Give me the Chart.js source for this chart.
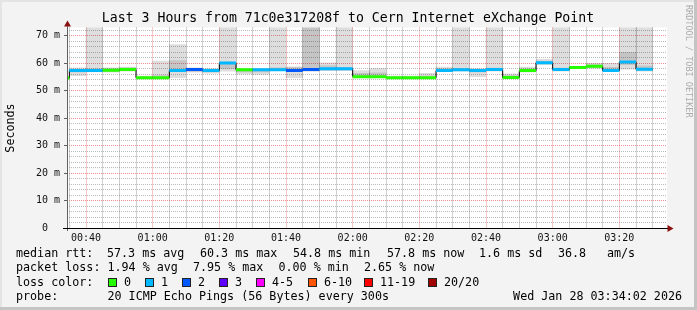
<!DOCTYPE html>
<html lang="en">
<head>
<meta charset="UTF-8">
<title>Last 3 Hours</title>
<script src="https://cdn.jsdelivr.net/npm/chart.js@4"></script>
<style>
    html, body { margin: 0; padding: 0; background: #f3f3f3; }
</style>
</head>
<body>
<canvas id="graphe" width="697" height="310"></canvas>
<script>

    // Bornes des intervalles de 5 min (300 s)
    let bornes = ['00:30','00:35','00:40','00:45','00:50','00:55','01:00','01:05','01:10','01:15',
                  '01:20','01:25','01:30','01:35','01:40','01:45','01:50','01:55','02:00','02:05',
                  '02:10','02:15','02:20','02:25','02:30','02:35','02:40','02:45','02:50','02:55',
                  '03:00','03:05','03:10','03:15','03:20','03:25','03:30'];

    // rtt médian (ms) par intervalle
    let medianes = [54.6, 57.3, 57.3, 57.4, 57.7, 54.7, 54.7, 57.3, 57.7, 57.3,
                    60.1, 57.6, 57.6, 57.6, 57.3, 57.7, 58.0, 58.0, 55.1, 55.1,
                    54.7, 54.7, 54.7, 57.3, 57.6, 57.3, 57.7, 54.8, 57.3, 60.2,
                    57.7, 58.4, 58.9, 57.3, 60.4, 57.8];

    // pings perdus sur 20
    let pertes = [0, 1, 1, 0, 0, 0, 0, 1, 2, 1,
                  1, 0, 1, 1, 2, 2, 1, 1, 0, 0,
                  0, 0, 0, 1, 1, 1, 1, 0, 0, 1,
                  1, 0, 0, 1, 1, 1];

    // fumée : min / max des pings (ms)
    let fumeeBas = [54.3, 55.5, 56.8, 56.7, 57.1, 54.4, 54.9, 54.7, 56.7, 56.4,
                    57.1, 56.1, 55.9, 57.3, 54.7, 57.0, 57.3, 57.3, 55.5, 55.5,
                    54.5, 54.5, 54.9, 57.1, 57.1, 55.1, 57.1, 54.7, 56.7, 59.5,
                    57.1, 58.1, 58.2, 57.3, 57.8, 57.1];
    let fumeeHaut = [55.0, 58.3, 80, 58.3, 58.6, 55.3, 60.8, 66.8, 58.3, 58.0,
                     80, 58.0, 58.0, 80, 58.6, 80, 60.1, 80, 57.3, 58.0,
                     55.3, 55.3, 56.3, 58.6, 80, 58.0, 80, 56.1, 58.6, 61.4,
                     80, 58.9, 60.0, 60.0, 80, 80];

    // fumée dense autour de la médiane (ms)
    let coeurBas = [54.4, 56.8, 57.0, 57.0, 57.3, 54.5, 54.7, 57.0, 57.0, 56.8,
                    58.0, 56.8, 56.8, 57.3, 57.3, 57.5, 57.6, 57.6, 55.3, 55.3,
                    54.5, 54.5, 54.7, 57.3, 57.3, 56.8, 57.3, 54.8, 57.0, 59.8,
                    57.3, 58.2, 58.4, 57.5, 59.5, 57.5];
    let coeurHaut = [54.8, 57.8, 58.0, 58.0, 58.3, 55.0, 55.5, 61.0, 58.0, 57.8,
                     60.4, 57.8, 57.8, 58.3, 58.6, 80, 59.0, 58.5, 56.3, 56.5,
                     55.0, 55.0, 55.3, 58.0, 58.0, 57.8, 58.2, 55.5, 58.0, 60.8,
                     58.2, 58.7, 59.4, 58.5, 64.0, 59.0];

    let heuresAxe = ['00:40','01:00','01:20','01:40','02:00','02:20','02:40','03:00','03:20'];
    let etiquettesY = ['0  ','10 m','20 m','30 m','40 m','50 m','60 m','70 m'];

    let classesPertes = ['0','1','2','3','4-5','6-10','11-19','20/20'];
    let couleursPertes = ['#26ff00','#00b8ff','#0059ff','#5e00ff','#ff00ff','#ff5500','#ff0000','#a10000'];

    let lignesStats = [
        ['median rtt:', '57.3 ms avg', '60.3 ms max', '54.8 ms min', '57.8 ms now', '1.6 ms sd', '36.8', 'am/s'],
        ['packet loss:', '1.94 % avg', '7.95 % max', '0.00 % min', '2.65 % now']
    ];
    let sonde = '20 ICMP Echo Pings (56 Bytes) every 300s';
    let dateGraphe = 'Wed Jan 28 03:34:02 2026';
    let titre = 'Last 3 Hours from 71c0e317208f to Cern Internet eXchange Point';

    let enMinutes = (hhmm) => {
        let [h, m] = hhmm.split(':').map(Number);
        return h * 60 + m;
    };
    let enHeure = (v) => {
        let h = Math.floor(v / 60), m = Math.round(v % 60);
        return String(h).padStart(2, '0') + ':' + String(m).padStart(2, '0');
    };
    let couleurPerte = (n) => {
        if (n <= 3) return couleursPertes[n];
        if (n <= 5) return couleursPertes[4];
        if (n <= 10) return couleursPertes[5];
        if (n <= 19) return couleursPertes[6];
        return couleursPertes[7];
    };

    let debuts = bornes.slice(0, -1).map(enMinutes);
    let fins = bornes.slice(1).map(enMinutes);
    let tMin = 34.3, tMax = 214.3;

    // Prépare les données
    let donneesFumee = debuts.map((d, i) => ({ x: (d + fins[i]) / 2, y: [fumeeBas[i], fumeeHaut[i]] }));
    let donneesCoeur = debuts.map((d, i) => ({ x: (d + fins[i]) / 2, y: [coeurBas[i], coeurHaut[i]] }));
    let donneesEscalier = debuts.map((d, i) => ({ x: d, y: medianes[i] }));
    donneesEscalier.push({ x: fins[fins.length - 1], y: medianes[medianes.length - 1] });
    let donneesMediane = [];
    debuts.forEach((d, i) => {
        donneesMediane.push({ x: d, y: medianes[i] });
        donneesMediane.push({ x: fins[i], y: medianes[i] });
        donneesMediane.push({ x: fins[i], y: null });
    });

    // graduations toutes les 5 min dans la fenêtre
    let graduationsX = [];
    for (let t = Math.ceil(tMin / 5) * 5; t < tMax; t += 5) graduationsX.push({ value: t });

    let police = "'DejaVu Sans Mono', monospace";

    let decor = {
        id: 'decor',
        beforeDraw: (chart) => {
            let ctx = chart.ctx;
            let a = chart.chartArea;
            ctx.save();
            ctx.fillStyle = '#f3f3f3';
            ctx.fillRect(0, 0, 697, 310);
            ctx.fillStyle = '#e4e4e4';
            ctx.fillRect(0, 0, 697, 2);
            ctx.fillRect(0, 0, 2, 310);
            ctx.fillStyle = '#c4c4c4';
            ctx.fillRect(694, 0, 3, 310);
            ctx.fillRect(0, 307, 697, 3);
            ctx.fillStyle = '#ffffff';
            ctx.fillRect(a.left, a.top, a.right - a.left, a.bottom - a.top);
            ctx.restore();
        },
        afterDraw: (chart) => {
            let ctx = chart.ctx;
            let a = chart.chartArea;
            ctx.save();

            // axes + flèches
            ctx.lineWidth = 1;
            ctx.strokeStyle = '#606060';
            ctx.beginPath();
            ctx.moveTo(a.left + 0.5, a.bottom + 3);
            ctx.lineTo(a.left + 0.5, 24);
            ctx.stroke();
            ctx.strokeStyle = '#000';
            ctx.beginPath();
            ctx.moveTo(a.left - 4, a.bottom + 0.5);
            ctx.lineTo(a.right + 2, a.bottom + 0.5);
            ctx.stroke();
            ctx.fillStyle = '#8b1010';
            ctx.beginPath();
            ctx.moveTo(a.left + 0.5, 20.5);
            ctx.lineTo(a.left - 3, 26.5);
            ctx.lineTo(a.left + 4, 26.5);
            ctx.closePath();
            ctx.fill();
            ctx.beginPath();
            ctx.moveTo(a.right + 6.5, a.bottom + 0.5);
            ctx.lineTo(a.right + 0.5, a.bottom - 3);
            ctx.lineTo(a.right + 0.5, a.bottom + 4);
            ctx.closePath();
            ctx.fill();

            // titre
            ctx.fillStyle = '#000';
            ctx.textBaseline = 'middle';
            ctx.textAlign = 'center';
            ctx.font = '13.2px ' + police;
            ctx.fillText(titre, 348, 19);

            // Seconds
            ctx.save();
            ctx.translate(11, 128);
            ctx.rotate(-Math.PI / 2);
            ctx.font = '11.7px ' + police;
            ctx.fillText('Seconds', 0, 0);
            ctx.restore();

            // crédit
            ctx.save();
            ctx.translate(688, 5);
            ctx.rotate(Math.PI / 2);
            ctx.textAlign = 'left';
            ctx.fillStyle = '#ababab';
            ctx.font = '8.5px ' + police;
            ctx.fillText('RRDTOOL / TOBI OETIKER', 0, 0);
            ctx.restore();

            // légende
            ctx.textAlign = 'left';
            ctx.font = '11.7px ' + police;
            let xStats = [[16, 107, 200, 293, 387, 479, 558, 607], [16, 107.5, 193, 278.5, 364]];
            let yLignes = [254.3, 268.3, 282.5, 296.5];
            lignesStats.forEach((ligne, j) => {
                ligne.forEach((txt, k) => ctx.fillText(txt, xStats[j][k], yLignes[j]));
            });
            ctx.fillText('loss color:', 16, yLignes[2]);
            let xCases = [108, 145, 182, 219, 256, 308, 364, 428];
            classesPertes.forEach((c, k) => {
                ctx.fillStyle = couleursPertes[k];
                ctx.fillRect(xCases[k], 278.5, 8, 8);
                ctx.strokeStyle = '#222';
                ctx.strokeRect(xCases[k] + 0.5, 278.5, 8, 8);
                ctx.fillStyle = '#000';
                ctx.fillText(c, xCases[k] + 16, yLignes[2]);
            });
            ctx.fillText('probe:', 16, yLignes[3]);
            ctx.fillText(sonde, 107.5, yLignes[3]);
            ctx.textAlign = 'right';
            ctx.fillText(dateGraphe, 682, yLignes[3]);
            ctx.restore();
        }
    };

    let grisMineur = 'rgba(120,120,120,0.5)';
    let grisMineurX = 'rgba(100,100,100,0.6)';
    let rougeMajeur = 'rgba(235,110,110,0.75)';

    let ctx = document.getElementById('graphe').getContext('2d');
    let chart = new Chart(ctx, {
        type: 'line',
        data: {
            datasets: [
                {
                    type: 'bar',
                    data: donneesFumee,
                    backgroundColor: 'rgba(0,0,0,0.13)',
                    borderWidth: 0,
                    barPercentage: 1,
                    categoryPercentage: 1,
                    grouped: false,
                    order: 4
                },
                {
                    type: 'bar',
                    data: donneesCoeur,
                    backgroundColor: 'rgba(0,0,0,0.11)',
                    borderWidth: 0,
                    barPercentage: 1,
                    categoryPercentage: 1,
                    grouped: false,
                    order: 3
                },
                {
                    type: 'line',
                    data: donneesEscalier,
                    stepped: true,
                    borderColor: '#000',
                    borderWidth: 1,
                    pointRadius: 0,
                    fill: false,
                    order: 2
                },
                {
                    type: 'line',
                    data: donneesMediane,
                    borderWidth: 3,
                    borderCapStyle: 'butt',
                    pointRadius: 0,
                    fill: false,
                    spanGaps: false,
                    segment: {
                        borderColor: (c) => couleurPerte(pertes[Math.floor(c.p0DataIndex / 3)])
                    },
                    order: 1
                }
            ]
        },
        options: {
            responsive: false,
            devicePixelRatio: 1,
            animation: false,
            events: [],
            layout: { padding: { top: 27.5, right: 30, bottom: 0, left: 0 } },
            plugins: { legend: { display: false }, tooltip: { enabled: false } },
            scales: {
                x: {
                    type: 'linear',
                    min: tMin,
                    max: tMax,
                    offset: false,
                    afterFit: (s) => { s.height = 82; },
                    afterBuildTicks: (s) => { s.ticks = graduationsX.map(t => ({ value: t.value })); },
                    border: { display: false, dash: [1, 1] },
                    grid: {
                        offset: false,
                        color: (c) => c.tick && c.tick.value % 20 === 0 ? rougeMajeur : grisMineurX,
                        tickLength: 3,
                        tickColor: 'rgba(0,0,0,0)'
                    },
                    ticks: {
                        autoSkip: false,
                        maxRotation: 0,
                        minRotation: 0,
                        padding: 1,
                        color: '#111',
                        font: { family: police, size: 10 },
                        callback: (v) => heuresAxe.includes(enHeure(v)) ? enHeure(v) : ''
                    }
                },
                y: {
                    type: 'linear',
                    min: 0,
                    max: 73,
                    afterFit: (s) => { s.width = 67; },
                    border: { display: false, dash: [1, 1] },
                    grid: {
                        color: (c) => c.tick && c.tick.value % 10 === 0 ? rougeMajeur : grisMineur,
                        tickLength: 3,
                        tickColor: (c) => c.tick && c.tick.value % 10 === 0 ? '#606060' : 'rgba(0,0,0,0)'
                    },
                    ticks: {
                        stepSize: 2,
                        includeBounds: false,
                        autoSkip: false,
                        padding: 4,
                        color: '#111',
                        font: { family: police, size: 10 },
                        callback: (v) => v % 10 === 0 ? etiquettesY[v / 10] : ''
                    }
                }
            }
        },
        plugins: [decor]
    });

</script>
</body>
</html>
